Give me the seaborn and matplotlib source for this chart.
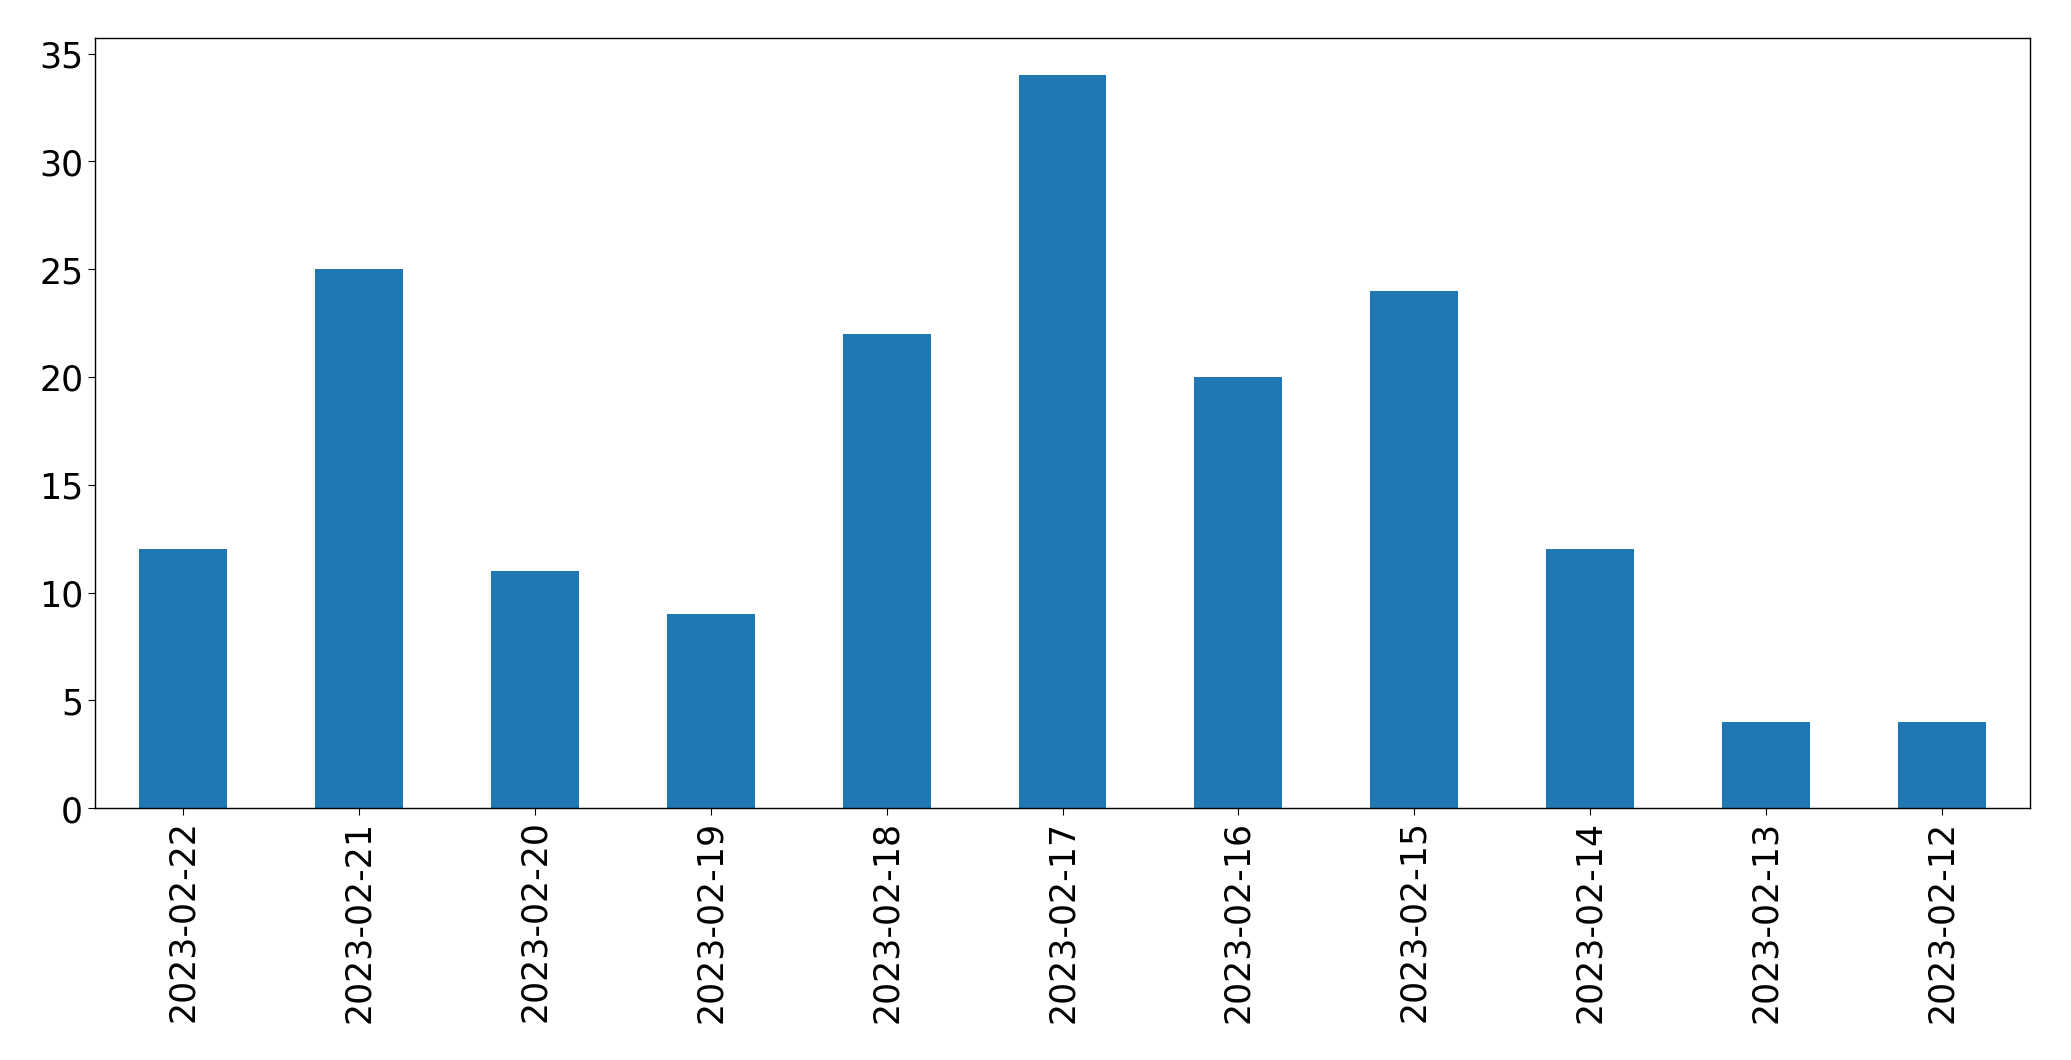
import matplotlib
matplotlib.use("Agg")
import matplotlib.pyplot as plt
import seaborn as sns
import pandas as pd

dates = ["2023-02-22", "2023-02-21", "2023-02-20", "2023-02-19", "2023-02-18",
         "2023-02-17", "2023-02-16", "2023-02-15", "2023-02-14", "2023-02-13",
         "2023-02-12"]
counts = [12, 25, 11, 9, 22, 34, 20, 24, 12, 4, 4]

df = pd.DataFrame({"date": dates, "count": counts})

fig = plt.figure(figsize=(20.71, 10.605), dpi=100)
ax = fig.add_axes([95/2071, 1 - 809/1061, (2030-95)/2071, (809-39)/1061])
sns.barplot(data=df, x="date", y="count", color="#1f77b4", saturation=1,
            width=0.5, ax=ax, order=dates, linewidth=0)
ax.set_xlim(-0.5, len(dates) - 0.5)
ax.set_ylim(0, 35.7)
ax.set_xlabel("")
ax.set_ylabel("")
ax.tick_params(axis="both", labelsize=25, length=5)
ax.tick_params(axis="x", rotation=90)
for s in ax.spines.values():
    s.set_linewidth(1.0)
fig.savefig("out.png", dpi=100)
